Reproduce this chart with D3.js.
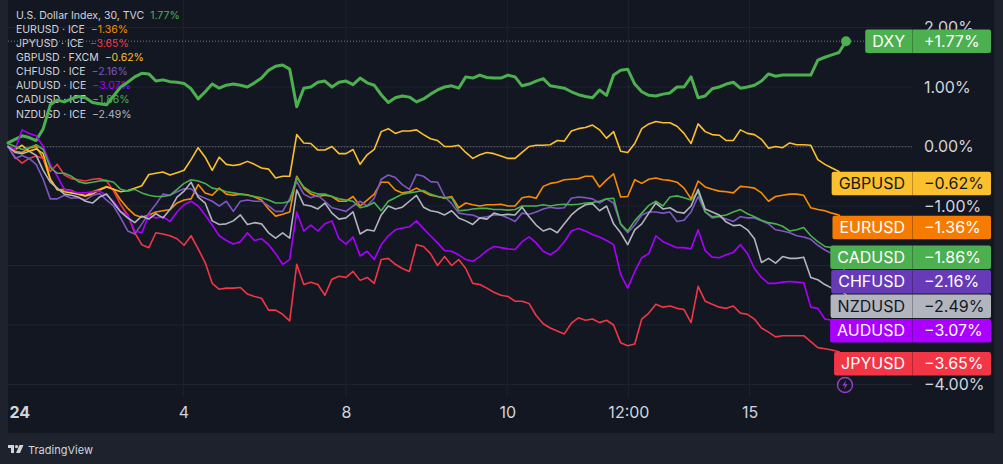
<!DOCTYPE html>
<html><head><meta charset="utf-8">
<script src="https://cdn.jsdelivr.net/npm/d3@7"></script>
<style>
html,body{margin:0;padding:0;background:#1e222d;}
svg{display:block;font-family:Inter,"Noto Sans",sans-serif;}
</style></head><body>
<svg id="c" width="1003" height="464"></svg>
<script>
// ---- data (percent change, 30-min bars, sampled) ----
const dxy = [0.06,0.12,0.18,0.15,0.10,0.30,0.70,0.78,0.75,0.80, 0.84,0.82,0.74,0.72,0.70,0.85,1.00,1.08,1.17,1.23, 1.22,1.10,1.12,1.09,1.08,1.06,0.97,0.80,0.92,1.05, 0.98,1.03,1.05,1.03,1.00,1.07,1.15,1.28,1.35,1.37, 1.30,0.67,0.98,1.00,1.08,1.10,1.00,1.08,1.10,1.04, 1.15,1.07,1.03,0.87,0.74,0.82,0.85,0.83,0.75,0.80, 0.88,0.95,1.00,1.02,0.98,1.17,1.15,1.20,1.16,1.15, 1.15,1.20,1.17,1.02,1.05,1.10,1.14,1.02,1.00,0.98, 0.92,0.87,0.84,0.82,0.95,0.86,1.20,1.28,1.30,1.05, 0.92,0.86,0.85,0.88,0.90,1.00,1.00,1.17,0.82,0.85, 0.97,1.00,1.05,1.08,0.98,1.00,1.03,1.10,1.22,1.18, 1.20,1.20,1.20,1.20,1.20,1.45,1.50,1.54,1.58,1.77];
const eurusd = [0.00,-0.08,-0.10,-0.03,0.00,-0.20,-0.55,-0.73,-0.72,-0.74, -0.80,-0.83,-0.76,-0.72,-0.67,-0.72,-0.90,-1.04,-1.15,-1.19, -1.15,-1.10,-1.08,-1.06,-0.95,-0.90,-0.88,-0.64,-0.78,-0.82, -0.70,-0.80,-0.82,-0.80,-0.81,-0.85,-0.90,-1.05,-1.17,-1.14, -1.10,-0.50,-0.70,-0.80,-0.84,-0.82,-0.84,-0.92,-0.92,-0.84, -1.00,-0.90,-0.80,-0.60,-0.60,-0.73,-0.78,-0.76,-0.70,-0.76, -0.82,-0.84,-0.87,-0.84,-1.03,-0.95,-0.98,-1.00,-0.98,-0.98, -0.97,-1.00,-1.00,-0.86,-0.84,-0.87,-0.67,-0.62,-0.60,-0.56, -0.55,-0.54,-0.50,-0.50,-0.68,-0.56,-0.46,-0.85,-0.84,-0.56, -0.62,-0.55,-0.53,-0.56,-0.57,-0.60,-0.70,-0.88,-0.58,-0.68, -0.72,-0.75,-0.76,-0.78,-0.67,-0.68,-0.70,-0.78,-0.92,-0.84, -0.82,-0.80,-0.80,-0.82,-1.03,-1.06,-1.08,-1.12,-1.15,-1.36];
const jpyusd = [0.00,-0.18,-0.28,-0.20,-0.16,-0.20,-0.42,-0.30,-0.48,-0.54, -0.56,-0.58,-0.55,-0.54,-0.58,-0.75,-0.98,-1.15,-1.45,-1.65, -1.70,-1.45,-1.47,-1.50,-1.55,-1.66,-1.50,-1.72,-1.95,-2.30, -2.40,-2.38,-2.38,-2.37,-2.48,-2.52,-2.55,-2.75,-2.75,-2.82, -2.93,-1.98,-2.32,-2.28,-2.32,-2.50,-2.23,-2.18,-2.20,-2.10, -2.25,-2.20,-2.30,-1.90,-1.88,-1.98,-2.05,-2.10,-1.65,-1.68, -1.80,-2.00,-1.85,-2.00,-1.90,-2.05,-2.30,-2.32,-2.38,-2.45, -2.50,-2.52,-2.60,-2.60,-2.64,-2.84,-2.98,-3.05,-3.10,-3.15, -2.97,-2.88,-2.92,-2.90,-2.96,-2.92,-3.00,-3.30,-3.35,-3.32, -2.90,-2.80,-2.65,-2.70,-2.68,-2.72,-2.74,-2.96,-2.35,-2.60, -2.65,-2.70,-2.72,-2.68,-2.80,-2.82,-2.90,-3.05,-3.12,-3.20, -3.18,-3.18,-3.18,-3.18,-3.28,-3.38,-3.40,-3.42,-3.45,-3.65];
const gbpusd = [0.00,-0.05,0.02,-0.08,-0.04,-0.12,-0.55,-0.72,-0.76,-0.78, -0.80,-0.83,-0.80,-0.73,-0.68,-0.72,-0.76,-0.74,-0.70,-0.66, -0.47,-0.45,-0.43,-0.48,-0.44,-0.40,-0.22,-0.02,-0.18,-0.40, -0.18,-0.30,-0.32,-0.30,-0.25,-0.30,-0.36,-0.38,-0.53,-0.50, -0.50,0.20,0.06,0.05,-0.06,-0.06,0.00,-0.12,-0.12,-0.05, -0.30,-0.14,-0.05,0.25,0.30,0.22,0.26,0.26,0.28,0.20, 0.13,0.10,0.00,0.00,0.02,-0.10,-0.20,-0.14,-0.10,-0.12, -0.16,-0.20,-0.20,-0.10,0.00,0.02,0.02,0.03,0.10,0.09, 0.26,0.30,0.32,0.36,0.28,0.14,0.25,-0.08,-0.10,0.05, 0.30,0.38,0.42,0.40,0.40,0.34,0.22,0.05,0.38,0.25, 0.20,0.19,0.10,0.10,0.28,0.22,0.20,0.12,-0.03,0.00, -0.02,0.06,0.03,0.03,0.02,-0.22,-0.30,-0.36,-0.42,-0.62];
const chfusd = [0.00,-0.20,-0.15,-0.20,-0.30,-0.55,-0.88,-0.88,-0.82,-0.87, -0.86,-0.90,-0.82,-0.79,-0.90,-1.00,-1.20,-1.42,-1.47,-1.30, -1.12,-0.97,-0.80,-0.82,-0.76,-0.71,-0.71,-0.82,-0.87,-0.92, -1.00,-0.92,-1.09,-0.92,-0.90,-0.92,-0.92,-1.00,-1.09,-1.09, -0.88,-0.59,-0.80,-0.86,-0.82,-0.92,-1.03,-1.06,-1.09,-1.00, -0.92,-1.00,-0.87,-0.55,-0.48,-0.52,-0.64,-0.72,-0.47,-0.50, -0.59,-0.60,-0.84,-0.96,-1.12,-1.14,-1.15,-1.20,-1.18,-1.15, -1.15,-1.20,-1.26,-1.12,-1.14,-1.10,-1.05,-1.02,-1.04,-1.03, -0.87,-0.85,-0.86,-0.88,-0.95,-0.88,-0.95,-1.31,-1.45,-1.32, -1.15,-1.10,-1.10,-1.12,-1.10,-1.26,-1.24,-1.10,-0.84,-1.10, -1.20,-1.18,-1.22,-1.26,-1.18,-1.20,-1.20,-1.25,-1.30,-1.40, -1.42,-1.45,-1.50,-1.52,-1.56,-1.66,-1.74,-1.80,-1.85,-2.16];
const audusd = [0.00,-0.05,0.28,0.22,0.18,0.00,-0.30,-0.50,-0.72,-0.75, -0.78,-0.78,-0.76,-0.75,-0.82,-0.92,-1.09,-1.15,-1.42,-1.45, -1.15,-1.20,-1.18,-1.26,-1.10,-0.98,-0.92,-1.00,-1.15,-1.32, -1.50,-1.58,-1.64,-1.60,-1.45,-1.58,-1.55,-1.65,-1.80,-1.98, -1.90,-1.10,-1.42,-1.32,-1.42,-1.30,-1.25,-1.55,-1.64,-1.52, -1.84,-1.76,-1.90,-1.65,-1.50,-1.40,-1.37,-1.35,-1.25,-1.38, -1.50,-1.62,-1.75,-1.76,-1.82,-1.90,-1.93,-1.85,-1.75,-1.68, -1.70,-1.72,-1.73,-1.60,-1.52,-1.62,-1.76,-1.82,-1.74,-1.60, -1.42,-1.38,-1.42,-1.48,-1.52,-1.58,-1.65,-2.15,-2.38,-2.10, -1.87,-1.80,-1.50,-1.60,-1.65,-1.70,-1.70,-1.72,-1.40,-1.75, -1.86,-1.87,-1.82,-1.78,-1.65,-1.80,-2.05,-2.20,-2.30,-2.30, -2.28,-2.27,-2.28,-2.29,-2.70,-2.72,-2.90,-2.92,-2.96,-3.07];
const cadusd = [0.05,0.00,-0.05,-0.02,0.03,-0.05,-0.35,-0.45,-0.45,-0.50, -0.59,-0.62,-0.60,-0.58,-0.57,-0.60,-0.72,-0.75,-0.72,-0.78, -0.82,-0.84,-0.84,-0.82,-0.72,-0.62,-0.56,-0.58,-0.62,-0.70, -0.72,-0.76,-0.78,-0.80,-0.82,-0.84,-0.86,-0.90,-0.95,-0.95, -0.92,-0.52,-0.68,-0.76,-0.80,-0.80,-0.84,-0.88,-0.90,-0.92, -1.03,-1.00,-0.94,-1.08,-0.92,-0.86,-0.80,-0.78,-0.76,-0.74, -0.80,-0.84,-0.86,-0.86,-1.08,-1.07,-1.05,-1.04,-1.04,-1.06, -1.06,-1.07,-1.06,-1.00,-1.00,-1.00,-0.98,-1.00,-0.98,-0.97, -0.98,-0.97,-0.95,-0.94,-0.92,-0.88,-0.87,-1.30,-1.42,-1.25, -1.12,-0.99,-0.92,-1.00,-0.85,-0.83,-0.86,-0.90,-0.76,-1.10, -1.18,-1.17,-1.15,-1.10,-1.06,-1.13,-1.18,-1.24,-1.28,-1.30, -1.34,-1.42,-1.40,-1.36,-1.50,-1.60,-1.68,-1.70,-1.74,-1.86];
const nzdusd = [0.00,-0.10,-0.12,-0.08,-0.15,-0.40,-0.60,-0.70,-0.80,-0.82, -0.85,-0.92,-0.95,-0.85,-0.80,-0.95,-1.10,-1.20,-1.28,-1.17, -1.22,-1.13,-1.20,-1.06,-0.85,-0.75,-0.60,-0.85,-0.95,-1.25, -1.31,-1.30,-1.25,-1.15,-1.31,-1.28,-1.30,-1.45,-1.54,-1.45, -1.54,-0.73,-0.98,-1.00,-1.05,-0.95,-1.12,-1.22,-1.20,-1.10, -1.47,-1.40,-1.42,-1.15,-1.00,-1.05,-1.02,-0.92,-0.82,-1.02, -1.08,-1.10,-1.15,-1.08,-1.20,-1.25,-1.31,-1.20,-1.22,-1.12, -1.15,-1.14,-1.15,-1.02,-1.18,-1.32,-1.42,-1.38,-1.45,-1.30, -1.15,-1.05,-0.98,-0.96,-1.08,-1.00,-1.30,-1.45,-1.65,-1.40, -1.30,-1.12,-0.95,-1.05,-1.03,-1.10,-1.12,-1.00,-0.72,-1.05, -1.10,-1.15,-1.27,-1.33,-1.32,-1.40,-1.55,-1.95,-1.88,-1.96, -1.85,-1.88,-1.88,-1.86,-2.20,-2.24,-2.32,-2.38,-2.40,-2.49];

const timeTickIdx = [0, 24.9, 48, 70.9, 88.1, 105.3];
const timeTickLabels = ["24", "4", "8", "10", "12:00", "15"];
const pctTicks = [2, 1, 0, -1, -2, -3, -4];

const seriesNames  = ["DXY","EURUSD","JPYUSD","GBPUSD","CHFUSD","AUDUSD","CADUSD","NZDUSD"];
const legendNames  = ["U.S. Dollar Index, 30, TVC","EURUSD · ICE","JPYUSD · ICE","GBPUSD · FXCM","CHFUSD · ICE","AUDUSD · ICE","CADUSD · ICE","NZDUSD · ICE"];
const seriesValues = [dxy, eurusd, jpyusd, gbpusd, chfusd, audusd, cadusd, nzdusd];
const lineColors   = ["#4caf50","#fb8c00","#f23645","#fbc02d","#7e57c2","#aa00ff","#4caf50","#b2b5be"];
const boxColors    = ["#4caf50","#f57c00","#f23645","#fbc02d","#673ab7","#aa00ff","#4caf50","#b2b5be"];
const boxText      = ["#ffffff","#ffffff","#ffffff","#131722","#ffffff","#ffffff","#ffffff","#131722"];

// ---- layout ----
const W = 1003, H = 464;
const plotL = 8, plotR = 912, plotB = 397, paneB = 433, paneR = 994;
const N = dxy.length;
const svg = d3.select("#c");
const x = d3.scaleLinear().domain([0, N - 1]).range([8, 846]);
const y = d3.scaleLinear().domain([2, -4]).range([27.5, 384.5]);
const minus = s => s.replace("-", "\u2212");
const fmt = v => minus(v.toFixed(2)) + "%";

svg.append("rect").attr("width", W).attr("height", H).attr("fill", "#1e222d");
svg.append("rect").attr("x", plotL).attr("y", 0).attr("width", paneR - plotL).attr("height", paneB).attr("fill", "#131722");

// grid
const grid = svg.append("g");
grid.selectAll("line.h").data(pctTicks).join("line").attr("class", "h")
  .attr("x1", plotL).attr("x2", plotR).attr("y1", d => y(d)).attr("y2", d => y(d))
  .attr("stroke", "#1f2330").attr("stroke-width", 1);
grid.selectAll("line.v").data(timeTickIdx.slice(1)).join("line").attr("class", "v")
  .attr("x1", d => x(d)).attr("x2", d => x(d)).attr("y1", 0).attr("y2", plotB)
  .attr("stroke", "#1f2330").attr("stroke-width", 1);
grid.append("line").attr("x1", plotL).attr("x2", plotR).attr("y1", y(0)).attr("y2", y(0))
  .attr("stroke", "#2e323d").attr("stroke-width", 1.2);
grid.append("line").attr("x1", plotL).attr("x2", plotR).attr("y1", y(0) + 0.5).attr("y2", y(0) + 0.5)
  .attr("stroke", "#5d606b").attr("stroke-width", 1).attr("stroke-dasharray", "1,2");

// legend (behind lines)
const leg = svg.append("g").attr("font-size", 10.5).attr("fill", "#d1d4dc");
legendNames.forEach((nm, i) => {
  const vals = seriesValues[i];
  const t = leg.append("text").attr("x", 16).attr("y", 18.8 + i * 14.1);
  t.append("tspan").text(nm);
  t.append("tspan").attr("dx", 6).attr("fill", lineColors[i]).text(fmt(vals[vals.length - 1]));
});

// right-side value label layout (stacked to avoid overlap)
const boxH = 23.5, gap = 1;
const items = seriesNames.map((nm, i) => ({ nm, i, v: seriesValues[i][N - 1] }))
  .sort((a, b) => b.v - a.v);
let prevBottom = -Infinity;
items.forEach(it => {
  let top = y(it.v) - boxH / 2;
  if (top < prevBottom + gap) top = prevBottom + gap;
  it.top = top; prevBottom = top + boxH;
});
// price labels hidden where a value box covers them (first box excepted, as in the source)
const coveredTick = t => items.slice(1).some(it => y(t) > it.top - 6 && y(t) < it.top + boxH + 6);
const shownPct = pctTicks.filter(t => !coveredTick(t));

// time axis
const xAxis = d3.axisBottom(x).tickValues(timeTickIdx).tickSize(0).tickPadding(10)
  .tickFormat((d, i) => timeTickLabels[i]);
const xg = svg.append("g").attr("transform", `translate(0,${plotB})`).call(xAxis);
xg.select(".domain").remove();
xg.selectAll("text").attr("fill", "#d1d4dc").attr("font-size", 16).attr("font-family", "Inter,'Noto Sans',sans-serif");
xg.selectAll(".tick").filter((d, i) => i === 0).select("text")
  .attr("text-anchor", "start").attr("dx", 1).attr("font-weight", "bold");

// price axis
const yAxis = d3.axisRight(y).tickValues(shownPct).tickSize(0).tickPadding(12).tickFormat(fmt);
const yg = svg.append("g").attr("transform", `translate(${plotR},0)`).call(yAxis);
yg.select(".domain").remove();
yg.selectAll("text").attr("fill", "#d1d4dc").attr("font-size", 16).attr("font-family", "Inter,'Noto Sans',sans-serif");

// last-value dotted line for DXY
svg.append("line").attr("x1", plotL).attr("x2", plotR)
  .attr("y1", y(dxy[N - 1])).attr("y2", y(dxy[N - 1]))
  .attr("stroke", "#787b86").attr("stroke-width", 1).attr("stroke-dasharray", "1,2");

// lines
const line = d3.line().x((d, i) => x(i)).y(d => y(d));
seriesValues.forEach((vals, i) => {
  svg.append("path").datum(vals).attr("d", line).attr("fill", "none")
    .attr("stroke", lineColors[i]).attr("stroke-width", i === 0 ? 3 : 1.6)
    .attr("stroke-linejoin", "round").attr("stroke-linecap", "round");
});
svg.append("circle").attr("cx", x(N - 1)).attr("cy", y(dxy[N - 1])).attr("r", 5).attr("fill", lineColors[0]);

// value boxes
const lab = svg.append("g");
items.forEach(it => {
  const g = lab.append("g");
  const tmp = g.append("text").attr("font-size", 16).text(it.nm);
  const tw = tmp.node().getComputedTextLength();
  tmp.remove();
  const left = plotR - tw - 14;
  g.append("rect").attr("x", left).attr("y", it.top).attr("width", 991 - left).attr("height", boxH)
    .attr("rx", 2).attr("fill", boxColors[it.i]);
  g.append("line").attr("x1", plotR + 0.5).attr("x2", plotR + 0.5).attr("y1", it.top).attr("y2", it.top + boxH)
    .attr("stroke", "rgba(0,0,0,0.25)").attr("stroke-width", 1);
  g.append("text").attr("x", (left + plotR) / 2).attr("y", it.top + boxH / 2 + 5.8)
    .attr("text-anchor", "middle").attr("font-size", 16).attr("fill", boxText[it.i]).text(it.nm);
  const vs = (it.v > 0 ? "+" : "") + fmt(it.v);
  g.append("text").attr("x", plotR + 12).attr("y", it.top + boxH / 2 + 5.8)
    .attr("font-size", 16).attr("fill", boxText[it.i]).text(vs);
});

// lightning icon
const ic = svg.append("g").attr("transform", `translate(${x(N - 1) - 1},385)`);
ic.append("circle").attr("r", 7.5).attr("fill", "none").attr("stroke", "#9c3fd0").attr("stroke-width", 1.4);
ic.append("path").attr("d", "M1.2,-4.8 L-2.6,0.6 L0,0.6 L-1.2,4.8 L2.6,-0.8 L0,-0.8 Z").attr("fill", "#9c3fd0");

// TradingView footer
const ft = svg.append("g").attr("transform", "translate(8,445)").attr("fill", "#d1d4dc");
ft.append("path").attr("d", "M0,0 H6 V8 H3 V3 H0 Z");
ft.append("circle").attr("cx", 8.5).attr("cy", 1.6).attr("r", 1.6);
ft.append("path").attr("d", "M11.5,0 H15.5 L12,8 H8 Z");
ft.append("text").attr("x", 20).attr("y", 8.5).attr("font-size", 11).text("TradingView");
</script>
</body></html>
